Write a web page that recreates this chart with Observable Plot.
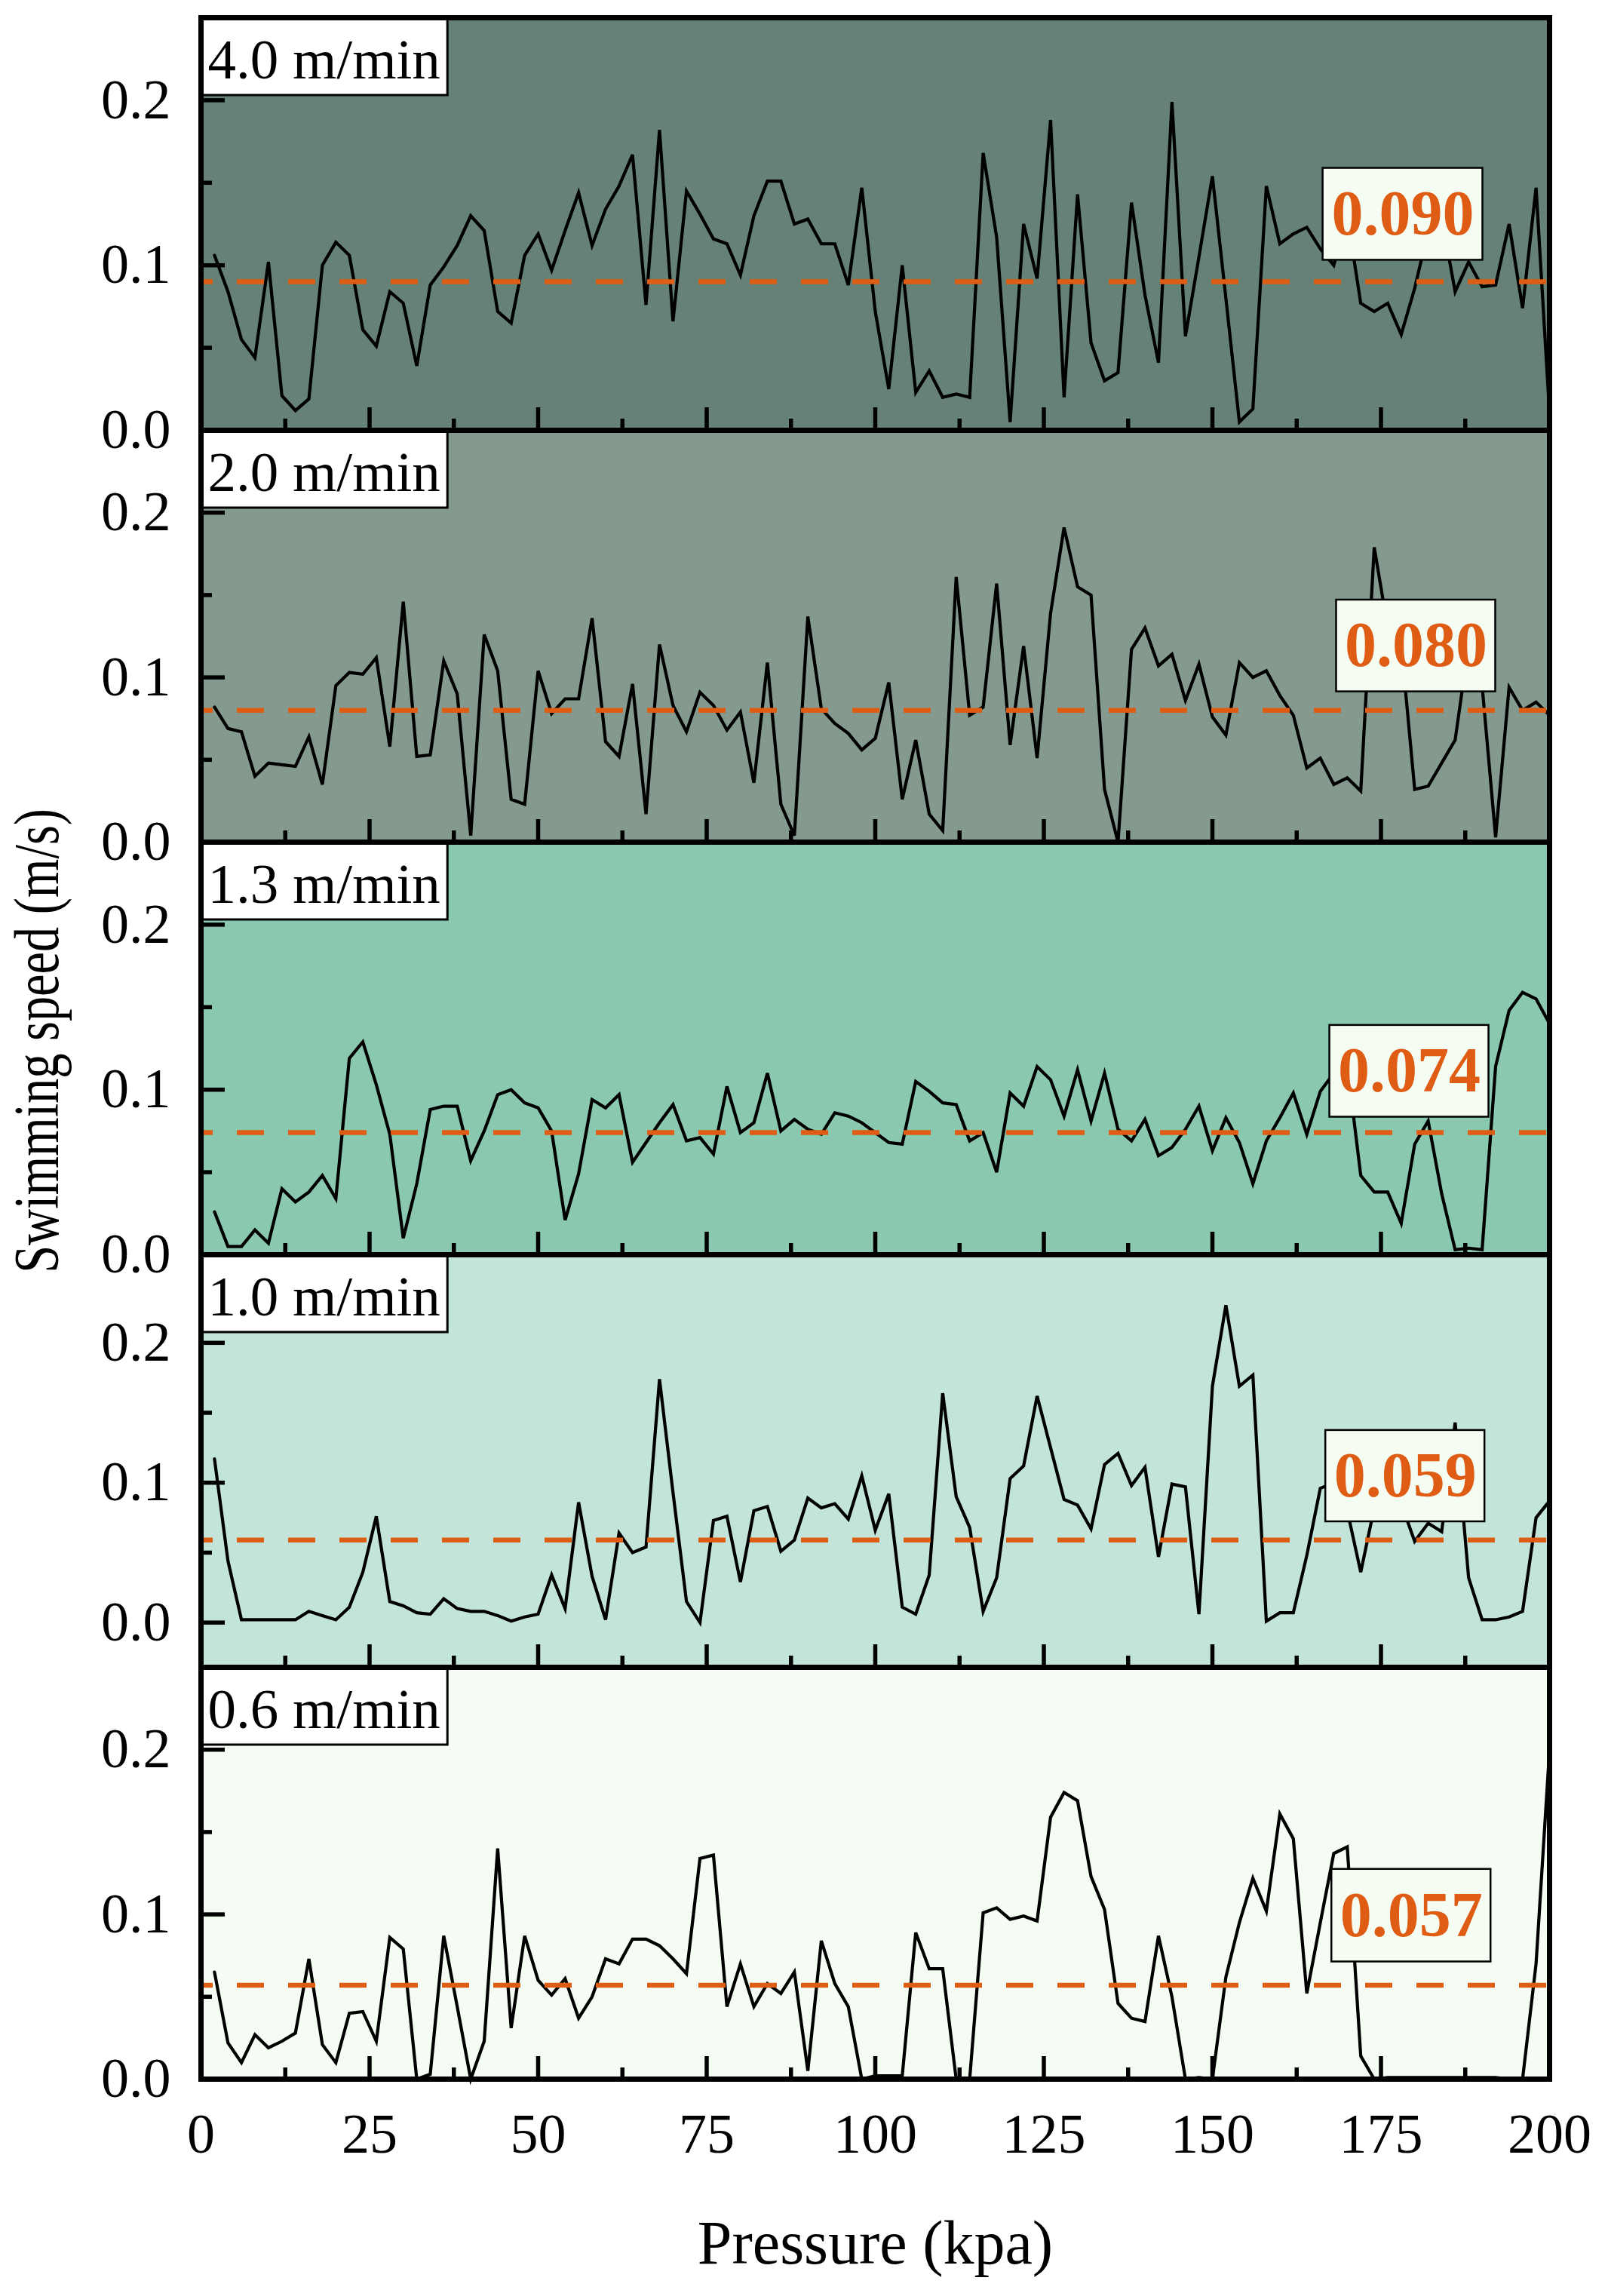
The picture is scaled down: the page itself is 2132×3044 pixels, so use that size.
<!DOCTYPE html>
<html><head><meta charset="utf-8">
<script src="https://cdn.jsdelivr.net/npm/d3@7"></script>
<script src="https://cdn.jsdelivr.net/npm/@observablehq/plot@0.6"></script>
<style>
body{margin:0;background:#fff;}
#chart{position:relative;width:2132px;height:3044px;font-family:"Liberation Serif","Times New Roman",serif;}
#chart svg{display:block;overflow:visible;}
#ytitle{position:absolute;left:7px;top:1380px;transform-origin:0 0;transform:rotate(-90deg) scaleX(0.79) translateX(-50%);font-size:84px;line-height:1;white-space:nowrap;color:#000;}
</style></head><body>
<div id="chart"><div id="ytitle">Swimming speed (m/s)</div></div>
<script>
// ---- data ----
const pressure = [2,4,6,8,10,12,14,16,18,20,22,24,26,28,30,32,34,36,38,40,42,44,46,48,50,52,54,56,58,60,62,64,66,68,70,72,74,76,78,80,82,84,86,88,90,92,94,96,98,100,102,104,106,108,110,112,114,116,118,120,122,124,126,128,130,132,134,136,138,140,142,144,146,148,150,152,154,156,158,160,162,164,166,168,170,172,174,176,178,180,182,184,186,188,190,192,194,196,198,200];

const speed40 = [0.106,0.084,0.055,0.044,0.102,0.021,0.012,0.019,0.100,0.114,
 0.106,0.061,0.051,0.084,0.077,0.039,0.088,0.099,0.112,0.130,
 0.121,0.072,0.065,0.106,0.119,0.097,0.121,0.144,0.112,0.134,
 0.148,0.167,0.076,0.182,0.066,0.145,0.131,0.116,0.113,0.094,
 0.130,0.151,0.151,0.125,0.128,0.113,0.113,0.088,0.147,0.072,
 0.025,0.100,0.023,0.036,0.020,0.022,0.020,0.168,0.117,0.005,
 0.125,0.092,0.188,0.020,0.143,0.053,0.030,0.035,0.138,0.082,
 0.041,0.199,0.057,0.105,0.154,0.080,0.005,0.013,0.148,0.113,
 0.119,0.123,0.110,0.100,0.130,0.077,0.072,0.077,0.058,0.086,
 0.121,0.129,0.084,0.102,0.087,0.088,0.125,0.074,0.147,0.010];

const speed20 = [0.082,0.069,0.067,0.040,0.048,0.047,0.046,0.064,0.035,0.095,
 0.103,0.102,0.112,0.058,0.146,0.052,0.053,0.110,0.090,0.004,
 0.126,0.104,0.026,0.023,0.104,0.078,0.087,0.087,0.136,0.061,
 0.052,0.096,0.017,0.120,0.083,0.067,0.091,0.083,0.068,0.079,
 0.036,0.109,0.023,0.004,0.137,0.081,0.072,0.066,0.056,0.063,
 0.097,0.026,0.062,0.017,0.007,0.161,0.077,0.082,0.157,0.059,
 0.119,0.051,0.139,0.191,0.155,0.150,0.032,0.000,0.117,0.130,
 0.107,0.114,0.086,0.108,0.076,0.065,0.109,0.100,0.104,0.089,
 0.077,0.045,0.051,0.035,0.039,0.031,0.179,0.130,0.120,0.032,
 0.034,0.048,0.062,0.120,0.095,0.003,0.094,0.080,0.085,0.077];

const speed13 = [0.026,0.005,0.005,0.015,0.007,0.040,0.032,0.038,0.048,0.034,
 0.119,0.129,0.103,0.073,0.010,0.043,0.088,0.090,0.090,0.057,
 0.075,0.097,0.100,0.092,0.089,0.075,0.021,0.049,0.094,0.089,
 0.097,0.056,0.068,0.080,0.091,0.069,0.071,0.061,0.102,0.074,
 0.080,0.110,0.075,0.082,0.076,0.073,0.086,0.084,0.080,0.074,
 0.068,0.067,0.105,0.099,0.092,0.091,0.069,0.074,0.050,0.098,
 0.090,0.114,0.106,0.084,0.112,0.081,0.110,0.076,0.069,0.082,
 0.060,0.065,0.076,0.090,0.063,0.083,0.068,0.043,0.069,0.083,
 0.098,0.073,0.099,0.110,0.115,0.048,0.038,0.038,0.019,0.067,
 0.081,0.037,0.003,0.004,0.003,0.114,0.148,0.159,0.155,0.140];

const speed10 = [0.117,0.044,0.002,0.002,0.002,0.002,0.002,0.008,0.005,0.002,
 0.011,0.036,0.076,0.015,0.012,0.007,0.006,0.017,0.010,0.008,
 0.008,0.005,0.001,0.004,0.006,0.034,0.010,0.086,0.033,0.002,
 0.064,0.050,0.054,0.174,0.093,0.015,0.000,0.073,0.076,0.029,
 0.080,0.083,0.051,0.059,0.089,0.082,0.085,0.074,0.105,0.066,
 0.092,0.011,0.006,0.034,0.164,0.090,0.068,0.008,0.032,0.103,
 0.112,0.162,0.125,0.088,0.084,0.067,0.113,0.121,0.098,0.111,
 0.047,0.099,0.097,0.006,0.169,0.227,0.169,0.177,0.001,0.007,
 0.007,0.048,0.096,0.100,0.080,0.036,0.082,0.090,0.085,0.058,
 0.071,0.065,0.143,0.032,0.002,0.002,0.004,0.008,0.075,0.087];

const speed06 = [0.065,0.022,0.010,0.027,0.019,0.023,0.028,0.073,0.021,0.010,
 0.040,0.041,0.023,0.086,0.079,0.000,0.003,0.087,0.044,0.000,
 0.023,0.140,0.031,0.087,0.060,0.051,0.061,0.037,0.050,0.073,
 0.070,0.085,0.085,0.081,0.073,0.064,0.134,0.136,0.044,0.070,
 0.044,0.058,0.052,0.065,0.005,0.084,0.058,0.044,0.000,0.002,
 0.002,0.002,0.089,0.067,0.067,0.000,0.000,0.101,0.104,0.097,
 0.099,0.096,0.159,0.174,0.169,0.123,0.103,0.046,0.037,0.035,
 0.087,0.050,0.000,0.001,0.000,0.062,0.095,0.122,0.102,0.161,
 0.146,0.052,0.095,0.137,0.141,0.014,0.000,0.001,0.001,0.001,
 0.001,0.001,0.001,0.001,0.001,0.001,0.000,0.000,0.070,0.200];

const panelLabels = ["4.0 m/min", "2.0 m/min", "1.3 m/min", "1.0 m/min", "0.6 m/min"];
const meanSpeeds = [0.090, 0.080, 0.074, 0.059, 0.057];
const xTicks = [0, 25, 50, 75, 100, 125, 150, 175, 200];
const xMinorTicks = [12.5, 37.5, 62.5, 87.5, 112.5, 137.5, 162.5, 187.5];
const yTicks = [0, 0.1, 0.2];
const yMinorTicks = [0.05, 0.15];

// ---- layout / style ----
const series = [speed40, speed20, speed13, speed10, speed06];
const yDomains = [[0, 0.25], [0, 0.25], [0, 0.25], [-0.032, 0.263], [0, 0.25]];
const bgColors = ["#668276", "#849A8E", "#8AC8AF", "#C3E4D8", "#F5FCF3"];
// value-label boxes [x1, x2, y1, y2] in data units
const valueBoxes = [[166.4,190.1,0.1031,0.1588],[168.4,192.0,0.0913,0.147],[167.4,191.0,0.0834,0.139],[166.8,190.4,0.0721,0.1374],[167.7,191.3,0.0712,0.1274]];
const orange = "#DE5C14";
const W = 2132, ML = 266, MR = 78, plotW = W - ML - MR;
const panelHeights = [547, 546, 547, 547, 546];
const topMargin = 23, bottomMargin = 288;
const labelBoxW = 36.6, labelBoxH = 103;

const chart = document.getElementById("chart");

series.forEach((vals, i) => {
  const H = panelHeights[i];
  const mt = i === 0 ? topMargin : 0;
  const mb = i === 4 ? bottomMargin : 0;
  const data = pressure.map((p, j) => ({p, v: vals[j]}));
  const [y0, y1] = yDomains[i];
  const vb = valueBoxes[i];
  const valueLabel = [{x1: vb[0], x2: vb[1], y1: vb[2], y2: vb[3], xc: (vb[0]+vb[1])/2, yc: (vb[2]+vb[3])/2, text: d3.format(".3f")(meanSpeeds[i])}];
  const speedBox = [{x1: 0, x2: labelBoxW, y1: y1 - (y1 - y0) * labelBoxH / H, y2: y1, text: panelLabels[i]}];
  const marks = [
    Plot.frame({fill: bgColors[i]}),
    Plot.line(data, {x: "p", y: "v", stroke: "#000", strokeWidth: 4.2, strokeLinejoin: "miter", strokeMiterlimit: 4}),
    Plot.ruleY([meanSpeeds[i]], {stroke: orange, strokeWidth: 6.5, strokeDasharray: "36,32", strokeDashoffset: 20}),
    Plot.rect(valueLabel, {x1: "x1", x2: "x2", y1: "y1", y2: "y2", fill: "#F5FCF2", stroke: "#000", strokeWidth: 2.5}),
    Plot.text(valueLabel, {x: "xc", y: "yc", text: "text", fill: orange, fontWeight: "bold", fontSize: 84, lineAnchor: "middle", textAnchor: "middle"}),
    Plot.rect(speedBox, {x1: "x1", x2: "x2", y1: "y1", y2: "y2", fill: "#fff", stroke: "#000", strokeWidth: 3}),
    Plot.text(speedBox, {text: "text", frameAnchor: "top-left", dx: 9, dy: 27, lineAnchor: "top", textAnchor: "start", fontSize: 75, fill: "#000"}),
    Plot.frame({stroke: "#000", strokeWidth: 7}),
    Plot.ruleX(xTicks, {stroke: "#000", strokeWidth: 5.5, insetTop: H - 30}),
    Plot.ruleX(xMinorTicks, {stroke: "#000", strokeWidth: 5.5, insetTop: H - 15}),
    Plot.ruleY(yTicks, {stroke: "#000", strokeWidth: 5.5, insetRight: plotW - 32}),
    Plot.ruleY(yMinorTicks, {stroke: "#000", strokeWidth: 5.5, insetRight: plotW - 15}),
    Plot.axisY({ticks: yTicks, tickSize: 0, tickPadding: 40, tickFormat: d3.format(".1f"), label: null, fontSize: 74})
  ];
  if (i === 4) {
    marks.push(Plot.axisX({ticks: xTicks, tickSize: 0, tickPadding: 45, label: null, fontSize: 74}));
    marks.push(Plot.text(["Pressure (kpa)"], {frameAnchor: "bottom", dy: 218, lineAnchor: "middle", textAnchor: "middle", fontSize: 82, fill: "#000"}));
  }
  const svg = Plot.plot({
    width: W,
    height: H + mt + mb,
    marginLeft: ML, marginRight: MR, marginTop: mt, marginBottom: mb,
    x: i === 4 ? {domain: [0, 200]} : {domain: [0, 200], axis: null},
    y: {domain: yDomains[i]},
    style: {fontFamily: "'Liberation Serif','Times New Roman',serif", fontSize: "74px", background: "transparent", overflow: "visible", color: "#000"},
    marks
  });
  chart.appendChild(svg);
});
</script>
</body></html>
